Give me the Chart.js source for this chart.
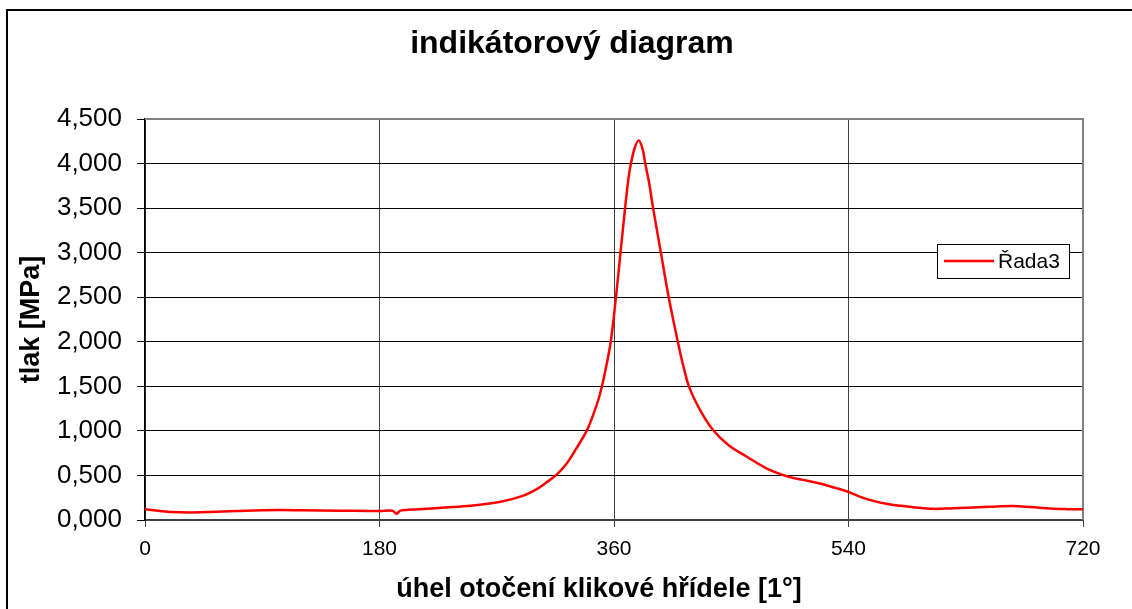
<!DOCTYPE html>
<html>
<head>
<meta charset="utf-8">
<title>indikátorový diagram</title>
<script src="https://cdn.jsdelivr.net/npm/chart.js@4"></script>
<style>
  html, body { margin: 0; padding: 0; background: #fff; }
</style>
</head>
<body>
<canvas id="chart" width="1132" height="609"></canvas>
<script>
// values
const angles = [0, 10, 20, 35, 50, 70, 90, 120, 150, 180, 190, 193, 196, 210, 230, 250, 273, 290, 300, 308,
  316, 324, 331, 339, 344, 349, 353, 357.5, 361.5, 365, 368.5, 371, 373, 376, 379, 382, 384, 387, 390, 396,
  402, 409, 413, 418, 427, 436, 448, 462, 477, 493, 505, 518, 530, 539, 549, 559, 570, 580, 592, 605, 618,
  631, 648, 666, 680, 695, 708, 720];
const pressures = [0.12, 0.105, 0.09, 0.085, 0.09, 0.10, 0.11, 0.11, 0.105, 0.10, 0.105, 0.07, 0.105, 0.12, 0.14, 0.16, 0.205, 0.27, 0.34, 0.42,
  0.51, 0.64, 0.80, 1.00, 1.18, 1.40, 1.65, 2.00, 2.50, 3.00, 3.50, 3.82, 4.00, 4.18, 4.26, 4.16, 4.00, 3.78, 3.50, 3.00,
  2.50, 2.00, 1.74, 1.48, 1.21, 1.01, 0.84, 0.71, 0.58, 0.49, 0.45, 0.41, 0.36, 0.32, 0.26, 0.215, 0.18, 0.16, 0.14, 0.125, 0.13,
  0.138, 0.148, 0.157, 0.145, 0.128, 0.122, 0.12];
const xTicks = [0, 180, 360, 540, 720];
const yTicks = [0, 0.5, 1, 1.5, 2, 2.5, 3, 3.5, 4, 4.5];
const seriesName = 'Řada3';

const FONT = "'Liberation Sans', Arial, sans-serif";

const points = angles.map((a, i) => ({ x: a, y: pressures[i] }));

const framePlugin = {
  id: 'frame',
  beforeDraw(chart) {
    const ctx = chart.ctx;
    ctx.save();
    ctx.strokeStyle = '#000';
    ctx.lineWidth = 2;
    ctx.beginPath();
    ctx.moveTo(7, 609);
    ctx.lineTo(7, 10);
    ctx.lineTo(1132, 10);
    ctx.stroke();
    ctx.restore();
  },
  beforeDatasetsDraw(chart) {
    const { ctx, chartArea: a } = chart;
    ctx.save();
    ctx.strokeStyle = '#808080';
    ctx.lineWidth = 2;
    ctx.beginPath();
    ctx.moveTo(a.left, a.top);
    ctx.lineTo(a.right, a.top);
    ctx.lineTo(a.right, a.bottom);
    ctx.stroke();
    ctx.restore();
  },
  afterDraw(chart) {
    // legend box inside the plot, like the Excel one
    const { ctx, chartArea: a } = chart;
    const ds = chart.data.datasets[0];
    const bx = a.right - 146, by = a.top + 125, bw = 132, bh = 34;
    ctx.save();
    ctx.fillStyle = '#fff';
    ctx.fillRect(bx, by, bw, bh);
    ctx.strokeStyle = '#000';
    ctx.lineWidth = 1;
    ctx.strokeRect(bx + 0.5, by + 0.5, bw, bh);
    ctx.strokeStyle = ds.borderColor;
    ctx.lineWidth = 2.5;
    ctx.beginPath();
    ctx.moveTo(bx + 7, by + 17);
    ctx.lineTo(bx + 57, by + 17);
    ctx.stroke();
    ctx.fillStyle = '#000';
    ctx.font = '21px ' + FONT;
    ctx.textBaseline = 'middle';
    ctx.fillText(ds.label, bx + 61, by + 18);
    ctx.restore();
  }
};

new Chart(document.getElementById('chart').getContext('2d'), {
  type: 'line',
  data: {
    datasets: [
      {
        label: seriesName,
        data: points,
        borderColor: '#ff0000',
        borderWidth: 2.5,
        pointRadius: 0,
        tension: 0.35,
        fill: false,
      },
    ],
  },
  options: {
    responsive: false,
    animation: false,
    layout: { padding: { top: 0, right: 0, bottom: 0, left: 12 } },
    plugins: {
      legend: { display: false },
      tooltip: { enabled: false },
      title: {
        display: true,
        text: 'indikátorový diagram',
        color: '#000',
        font: { family: FONT, size: 32, weight: 'bold' },
        padding: { top: 25, bottom: 55.6 },
      },
    },
    scales: {
      x: {
        type: 'linear',
        min: 0,
        max: 720,
        afterBuildTicks: scale => { scale.ticks = xTicks.map(v => ({ value: v })); },
        afterFit: scale => { scale.height = 89; },
        ticks: {
          color: '#000',
          font: { family: FONT, size: 21 },
          padding: 10,
          maxRotation: 0,
        },
        grid: { color: '#404040', lineWidth: 1, tickLength: 7 },
        border: { color: '#404040', width: 2 },
        title: {
          display: true,
          text: 'úhel otočení klikové hřídele [1°]    ',
          color: '#000',
          font: { family: FONT, size: 27, weight: 'bold' },
          padding: { top: 0, bottom: 3 },
        },
      },
      y: {
        min: 0,
        max: 4.5,
        afterBuildTicks: scale => { scale.ticks = yTicks.map(v => ({ value: v })); },
        afterFit: scale => { scale.width = 133; },
        ticks: {
          color: '#000',
          font: { family: FONT, size: 26 },
          padding: 15,
          callback: v => v.toFixed(3).replace('.', ','),
        },
        grid: { color: '#000', lineWidth: 1, tickLength: 8 },
        border: { color: '#000', width: 1.5 },
        title: {
          display: true,
          text: 'tlak [MPa]',
          color: '#000',
          font: { family: FONT, size: 27, weight: 'bold' },
          padding: { top: 3, bottom: 0 },
        },
      },
      // empty right-hand band, keeps the plot clear of the right edge
      yRight: {
        position: 'right',
        display: true,
        afterFit: scale => { scale.width = 49; },
        ticks: { display: false },
        grid: { display: false, drawOnChartArea: false },
        border: { display: false },
      },
    },
  },
  plugins: [framePlugin],
});
</script>
</body>
</html>
